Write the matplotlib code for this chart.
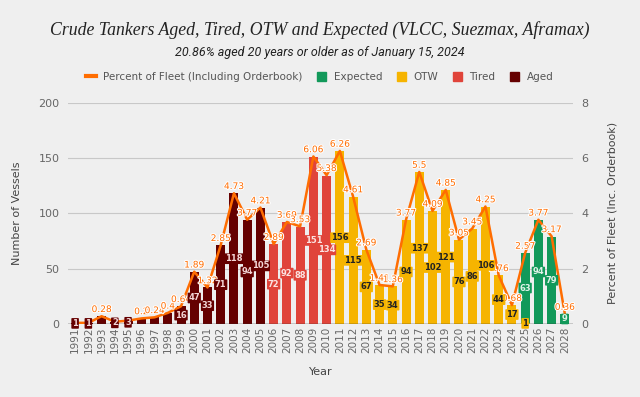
import matplotlib
matplotlib.use("Agg")
import matplotlib.pyplot as plt
import matplotlib.patheffects as pe
from matplotlib.lines import Line2D
from matplotlib.patches import Patch
import numpy as np

years = list(range(1991, 2029))
aged = [1, 1, 7, 2, 3, 5, 6, 10, 16, 47, 33, 71, 118, 94, 105] + [0] * 23
tired = [0] * 15 + [72, 92, 88, 151, 134] + [0] * 18
otw = [0] * 20 + [156, 115, 67, 35, 34, 94, 137, 102, 121, 76, 86, 106, 44, 17, 1, 0, 0, 0]
expected = [0] * 34 + [63, 94, 79, 9]
pct = [0.04, 0.04, 0.28, 0.08, 0.12, 0.2, 0.24, 0.4, 0.64, 1.89, 1.32, 2.85, 4.73, 3.77,
       4.21, 2.89, 3.69, 3.53, 6.06, 5.38, 6.26, 4.61, 2.69, 1.41, 1.36, 3.77, 5.5, 4.09,
       4.85, 3.05, 3.45, 4.25, 1.76, 0.68, 2.57, 3.77, 3.17, 0.36]
pct_labels = ["", "", "0.28", "", "", "0.2", "0.24", "0.4", "0.64", "1.89", "1.32", "2.85",
              "4.73", "3.77", "4.21", "2.89", "3.69", "3.53", "6.06", "5.38", "6.26", "4.61",
              "2.69", "1.41", "1.36", "3.77", "5.5", "4.09", "4.85", "3.05", "3.45", "4.25",
              "1.76", "0.68", "2.57", "3.77", "3.17", "0.36"]
# bar labels hidden behind the line labels in the original
hidden = {1993, 1996, 1997, 1998}

c_aged = "#650000"
c_tired = "#e0443a"
c_otw = "#f6b400"
c_exp = "#12995a"
c_line = "#ff6d01"
bg = "#efefef"
grey = "#666666"

fig = plt.figure(figsize=(6.4, 3.97), dpi=100, facecolor=bg)
ax = fig.add_axes([0.106, 0.184, 0.789, 0.557], facecolor=bg)
ax2 = ax.twinx()

x = np.arange(len(years))
w = 0.68
ax.bar(x, aged, w, color=c_aged, zorder=2)
ax.bar(x, tired, w, color=c_tired, zorder=2)
ax.bar(x, otw, w, color=c_otw, zorder=2)
ax.bar(x, expected, w, bottom=otw, color=c_exp, zorder=2)

# bar value labels, centred in the bars, drawn on top of the line
def bar_labels(vals, bottoms, fc, tc):
    for i, v in enumerate(vals):
        if v <= 0 or years[i] in hidden:
            continue
        ax2.text(i, bottoms[i] + v / 2, str(v), ha="center", va="center", fontsize=6,
                 fontweight="bold", color=tc, zorder=7, transform=ax.transData,
                 bbox=dict(boxstyle="round,pad=0.1", fc=fc, ec="none"))

zeros = [0] * len(years)
bar_labels(aged, zeros, c_aged, "#f3d6d6")
bar_labels(tired, zeros, c_tired, "#fbe3e1")
bar_labels(otw, zeros, c_otw, "#222222")
bar_labels(expected, otw, c_exp, "#dff3e8")

ax.set_ylim(0, 200)
ax.set_yticks([0, 50, 100, 150, 200])
ax.set_xlim(-0.55, len(years) - 0.4)
ax.set_xticks(x)
ax.set_xticklabels([str(y) for y in years], rotation=90, fontsize=7.5, color=grey)
ax.grid(axis="y", color="#c8c8c8", linewidth=0.8, zorder=0)
ax.set_axisbelow(True)
ax.tick_params(axis="y", length=0, labelsize=8, colors=grey, pad=6)
ax.tick_params(axis="x", length=0, pad=2)
for s in ax.spines.values():
    s.set_visible(False)
ax.axhline(0, color="#333333", linewidth=1, zorder=3)
ax.set_ylabel("Number of Vessels", fontsize=8, color="#444444", labelpad=12)
ax.set_xlabel("Year", fontsize=8, color="#444444", labelpad=10)

ax2.plot(x, pct, color=c_line, linewidth=1.8, zorder=5)
ax2.set_ylim(0, 8)
ax2.set_yticks([0, 2, 4, 6, 8])
ax2.tick_params(axis="y", length=0, labelsize=8, colors=grey, pad=6)
for s in ax2.spines.values():
    s.set_visible(False)
ax2.set_ylabel("Percent of Fleet (Inc. Orderbook)", fontsize=8, color="#444444", labelpad=14)
for i, lab in enumerate(pct_labels):
    if lab:
        t = ax2.text(i, pct[i] + 0.08, lab, ha="center", va="bottom", fontsize=6.5,
                     color=c_line, zorder=6)
        t.set_path_effects([pe.withStroke(linewidth=1.5, foreground="white")])

fig.text(0.5, 0.925, "Crude Tankers Aged, Tired, OTW and Expected (VLCC, Suezmax, Aframax)",
         ha="center", va="center", fontsize=12.8, style="italic", family="Liberation Serif",
         color="#222222")
fig.text(0.5, 0.869, "20.86% aged 20 years or older as of January 15, 2024",
         ha="center", va="center", fontsize=9, style="italic", family="Roboto", color="#222222")

handles = [Line2D([0], [0], color=c_line, linewidth=3),
           Patch(color=c_exp), Patch(color=c_otw), Patch(color=c_tired), Patch(color=c_aged)]
labels = ["Percent of Fleet (Including Orderbook)", "Expected", "OTW", "Tired", "Aged"]
leg = fig.legend(handles, labels, loc="center", bbox_to_anchor=(0.5, 0.806), ncol=5,
                 frameon=False, fontsize=7.5, handlelength=0.9, handleheight=0.9,
                 columnspacing=1.4, handletextpad=0.7)
for t in leg.get_texts():
    t.set_color("#555555")

fig.savefig("out.png", dpi=100, facecolor=bg)
